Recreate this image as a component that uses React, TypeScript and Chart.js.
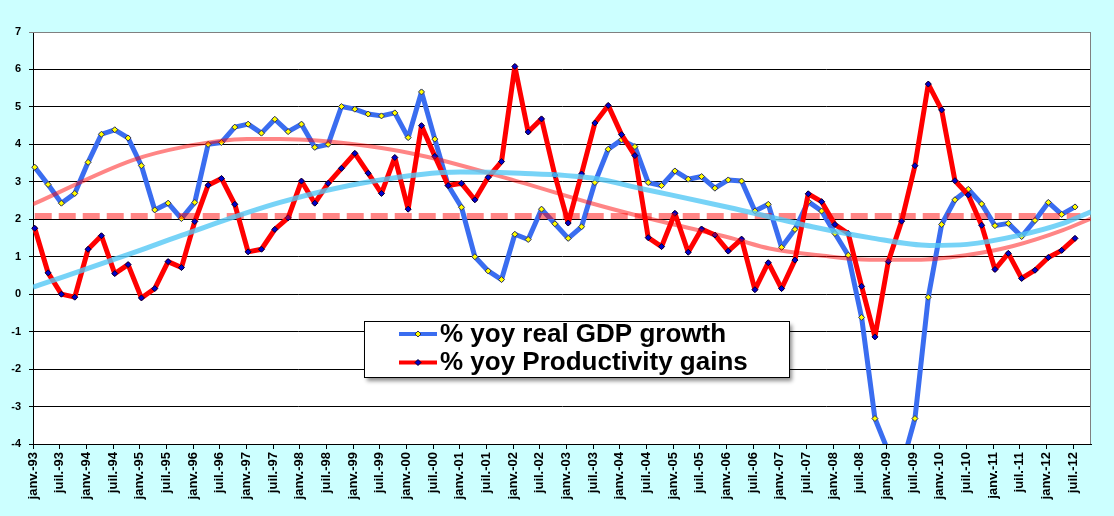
import React, { useEffect, useRef } from "react"
import Chart from "chart.js/auto"

// quarterly, janv.-93 .. juil.-12
const tickLabels = [
    "janv.-93", "juil.-93", "janv.-94", "juil.-94", "janv.-95", "juil.-95", "janv.-96", "juil.-96",
    "janv.-97", "juil.-97", "janv.-98", "juil.-98", "janv.-99", "juil.-99", "janv.-00", "juil.-00",
    "janv.-01", "juil.-01", "janv.-02", "juil.-02", "janv.-03", "juil.-03", "janv.-04", "juil.-04",
    "janv.-05", "juil.-05", "janv.-06", "juil.-06", "janv.-07", "juil.-07", "janv.-08", "juil.-08",
    "janv.-09", "juil.-09", "janv.-10", "juil.-10", "janv.-11", "juil.-11", "janv.-12", "juil.-12",
]

const gdpGrowth = [
    3.39, 2.93, 2.43, 2.69, 3.52, 4.27, 4.39, 4.17, 3.43, 2.25,
    2.43, 2.02, 2.45, 4.0, 4.05, 4.46, 4.54, 4.3, 4.67, 4.34,
    4.54, 3.92, 4.0, 5.01, 4.94, 4.81, 4.76, 4.84, 4.18, 5.4,
    4.14, 2.9, 2.32, 1.0, 0.62, 0.39, 1.6, 1.46, 2.27, 1.88,
    1.49, 1.8, 2.98, 3.87, 4.12, 3.94, 2.98, 2.9, 3.29, 3.07,
    3.14, 2.83, 3.05, 3.02, 2.22, 2.4, 1.25, 1.73, 2.47, 2.22,
    1.62, 1.04, -0.62, -3.32, -4.2, -4.6, -3.32, -0.08, 1.86, 2.52,
    2.8, 2.41, 1.83, 1.89, 1.54, 1.97, 2.45, 2.13, 2.33,
]

const productivityGains = [
    1.76, 0.57, 0.0, -0.08, 1.2, 1.56, 0.55, 0.79, -0.1, 0.15,
    0.87, 0.71, 1.94, 2.91, 3.09, 2.4, 1.13, 1.2, 1.73, 2.04,
    3.02, 2.43, 2.96, 3.36, 3.76, 3.23, 2.69, 3.65, 2.27, 4.5,
    3.68, 2.9, 2.96, 2.52, 3.12, 3.54, 6.08, 4.33, 4.68, 3.18,
    1.9, 3.21, 4.57, 5.04, 4.26, 3.7, 1.51, 1.27, 2.16, 1.12,
    1.74, 1.58, 1.15, 1.47, 0.12, 0.84, 0.15, 0.91, 2.68, 2.47,
    1.86, 1.62, 0.21, -1.14, 0.87, 1.95, 3.43, 5.61, 4.92, 3.03,
    2.65, 1.84, 0.66, 1.09, 0.42, 0.64, 0.98, 1.17, 1.49,
]

// trend curves (quarter index -> value)
const gdpTrendAt = [-0.13, 7.35, 11.0, 18.4, 25.1, 31.9, 36.4, 41.8, 45.6, 52.5, 58.3, 62.6, 67.1, 69.9, 73.8, 77.1, 79.2]
const gdpTrend = [0.19, 1.1, 1.57, 2.45, 3.0, 3.26, 3.23, 3.1, 2.81, 2.28, 1.8, 1.51, 1.3, 1.33, 1.57, 1.89, 2.2]

const prodTrendAt = [-0.13, 7.35, 11.0, 15.9, 18.4, 25.1, 29.4, 36.4, 41.8, 45.6, 52.5, 55.1, 58.8, 62.6, 66.1, 69.8, 73.3, 77.1, 79.2]
const prodTrend = [2.4, 3.58, 3.92, 4.14, 4.14, 3.95, 3.67, 2.99, 2.42, 2.06, 1.47, 1.22, 1.04, 0.92, 0.92, 1.04, 1.28, 1.71, 2.02]

const prodAverage = 2.09
const averageSpan = [0, 78.4]

const TICK_SHIFT = -0.13
const X_MAX = 79.2
const FONT = "'Liberation Sans', Arial, sans-serif"

const toPoints = (values: number[]) => values.map((y, i) => ({ x: i, y }))
const pairUp = (at: number[], values: number[]) => at.map((x, i) => ({ x, y: values[i] }))

const plotFrame = {
    id: "plotFrame",
    beforeDraw(chart: any) {
        const { ctx, chartArea: a } = chart
        ctx.save()
        ctx.fillStyle = "#ffffff"
        ctx.fillRect(a.left, a.top, a.right - a.left, a.bottom - a.top)
        ctx.restore()
    },
    beforeDatasetsDraw(chart: any) {
        const { ctx, chartArea: a } = chart
        ctx.save()
        ctx.strokeStyle = "#808080"
        ctx.lineWidth = 1
        ctx.beginPath()
        ctx.moveTo(a.left, a.top + 0.5)
        ctx.lineTo(a.right - 0.5, a.top + 0.5)
        ctx.lineTo(a.right - 0.5, a.bottom)
        ctx.stroke()
        ctx.restore()
    },
}

const legendBox = {
    id: "legendBox",
    afterDraw(chart: any) {
        const { ctx } = chart
        const entries = chart.data.datasets
            .filter((d: any) => d.legendRank !== undefined)
            .sort((a: any, b: any) => a.legendRank - b.legendRank)
        const x = 364, y = 321, w = 425, h = 56
        ctx.save()
        ctx.shadowColor = "rgba(0,0,0,0.45)"
        ctx.shadowOffsetX = 3
        ctx.shadowOffsetY = 4
        ctx.shadowBlur = 4
        ctx.fillStyle = "#ffffff"
        ctx.fillRect(x, y, w, h)
        ctx.shadowColor = "transparent"
        ctx.strokeStyle = "#000000"
        ctx.lineWidth = 1
        ctx.strokeRect(x + 0.5, y + 0.5, w, h)

        entries.forEach((d: any, i: number) => {
            const ly = 334 + i * 28.5
            ctx.strokeStyle = d.borderColor
            ctx.lineWidth = 4
            ctx.beginPath()
            ctx.moveTo(399, ly)
            ctx.lineTo(437, ly)
            ctx.stroke()
            ctx.fillStyle = d.pointBackgroundColor
            ctx.strokeStyle = d.pointBorderColor
            ctx.lineWidth = 1
            ctx.beginPath()
            ctx.moveTo(418, ly - 3)
            ctx.lineTo(421, ly)
            ctx.lineTo(418, ly + 3)
            ctx.lineTo(415, ly)
            ctx.closePath()
            ctx.fill()
            ctx.stroke()
            ctx.fillStyle = "#000000"
            ctx.font = `bold 26px ${FONT}`
            ctx.textBaseline = "alphabetic"
            ctx.textAlign = "left"
            ctx.fillText(d.label, 440, ly + 7.5)
        })
        ctx.restore()
    },
}

const App = () => {
    const chartRef = useRef<HTMLCanvasElement | null>(null)

    useEffect(() => {
        document.body.style.margin = "0"
        const ctx = chartRef.current?.getContext("2d")
        if (!ctx) return

        const chart = new Chart(ctx, {
            type: "line",
            data: {
                datasets: [
                    {
                        label: "GDP trend",
                        data: pairUp(gdpTrendAt, gdpTrend),
                        borderColor: "rgba(85,200,245,0.8)",
                        borderWidth: 5,
                        pointRadius: 0,
                        cubicInterpolationMode: "monotone",
                    },
                    {
                        label: "Productivity trend",
                        data: pairUp(prodTrendAt, prodTrend),
                        borderColor: "rgba(255,0,0,0.48)",
                        borderWidth: 4,
                        pointRadius: 0,
                        cubicInterpolationMode: "monotone",
                    },
                    {
                        label: "Productivity average",
                        data: averageSpan.map((x) => ({ x, y: prodAverage })),
                        borderColor: "rgba(255,0,0,0.48)",
                        borderWidth: 6,
                        borderDash: [17, 7],
                        pointRadius: 0,
                    },
                    {
                        label: "% yoy Productivity gains",
                        legendRank: 1,
                        data: toPoints(productivityGains),
                        borderColor: "#ff0000",
                        borderWidth: 5,
                        borderJoinStyle: "round",
                        borderCapStyle: "round",
                        pointStyle: "rectRot",
                        pointRadius: 3,
                        pointBackgroundColor: "#0000cc",
                        pointBorderColor: "#000033",
                        pointBorderWidth: 1,
                        clip: { left: 5, right: 5, top: 5, bottom: 0 },
                    },
                    {
                        label: "% yoy real GDP growth",
                        legendRank: 0,
                        data: toPoints(gdpGrowth),
                        borderColor: "#3a6df0",
                        borderWidth: 5,
                        borderJoinStyle: "round",
                        borderCapStyle: "round",
                        pointStyle: "rectRot",
                        pointRadius: 3,
                        pointBackgroundColor: "#ffff00",
                        pointBorderColor: "#333355",
                        pointBorderWidth: 1,
                        clip: { left: 5, right: 5, top: 5, bottom: 0 },
                    },
                ] as any,
            },
            options: {
                animation: false,
                responsive: false,
                events: [],
                layout: { padding: { top: 32, right: 23, left: 0, bottom: 0 } },
                plugins: {
                    legend: { display: false },
                    tooltip: { enabled: false },
                },
                elements: { line: { tension: 0 } },
                scales: {
                    x: {
                        type: "linear",
                        min: TICK_SHIFT,
                        max: X_MAX,
                        afterBuildTicks: (scale: any) => {
                            scale.ticks = tickLabels.map((_, k) => ({ value: 2 * k + TICK_SHIFT }))
                        },
                        afterFit: (scale: any) => {
                            scale.height = 72
                        },
                        ticks: {
                            autoSkip: false,
                            minRotation: 90,
                            maxRotation: 90,
                            padding: 3,
                            color: "#000000",
                            font: { family: FONT, size: 13, weight: "bold" },
                            callback: (_v: any, index: number) => tickLabels[index],
                        },
                        grid: {
                            drawOnChartArea: false,
                            drawTicks: true,
                            tickLength: 5,
                            color: "#000000",
                        },
                        border: { color: "#000000", width: 1 },
                    },
                    y: {
                        min: -4,
                        max: 7,
                        afterFit: (scale: any) => {
                            scale.width = 33
                        },
                        ticks: {
                            stepSize: 1,
                            padding: 8,
                            color: "#000000",
                            font: { family: FONT, size: 11, weight: "bold" },
                        },
                        grid: {
                            color: (c: any) => (c.tick && c.tick.value === 7 ? "#808080" : "#000000"),
                            tickLength: 4,
                            lineWidth: 1,
                        },
                        border: { color: "#000000", width: 1 },
                    },
                },
            } as any,
            plugins: [plotFrame, legendBox],
        })

        return () => chart.destroy()
    }, [])

    return (
        <div style={{ width: 1114, height: 516, background: "#ccffff", position: "relative" }}>
            <canvas ref={chartRef} width={1114} height={516} />
        </div>
    )
}

export default App
